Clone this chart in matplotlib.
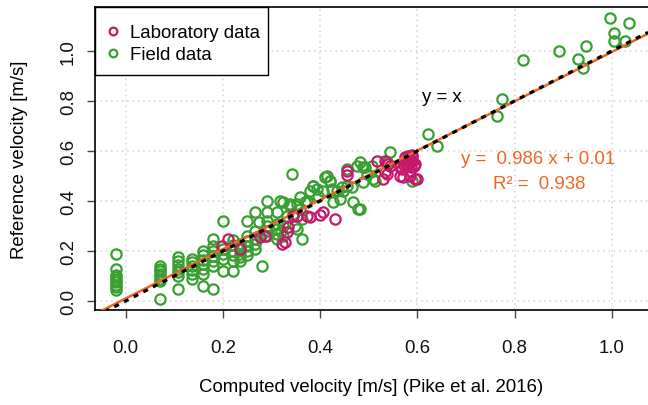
import matplotlib
matplotlib.use("Agg")
import matplotlib.pyplot as plt
from matplotlib.patches import Rectangle
import numpy as np

plt.rcParams['font.family'] = ['Liberation Sans', 'DejaVu Sans']

# Field data (computed, reference)
field_x = [
    -0.02, -0.02, -0.02, -0.02, -0.02, -0.02, -0.02, -0.02, -0.02,
    0.07, 0.07, 0.07, 0.07, 0.07, 0.07, 0.07, 0.07,
    0.108, 0.108, 0.108, 0.108, 0.108, 0.108, 0.108,
    0.137, 0.137, 0.137, 0.137, 0.137, 0.137,
    0.16, 0.16, 0.16, 0.16, 0.16, 0.16, 0.16,
    0.18, 0.18, 0.18, 0.18, 0.18, 0.18, 0.18,
    0.20, 0.20, 0.20, 0.20, 0.20,
    0.22, 0.22, 0.22, 0.22, 0.22, 0.22,
    0.235, 0.235, 0.235, 0.235, 0.235,
    0.25, 0.25, 0.25, 0.25, 0.25, 0.25,
    0.266, 0.266, 0.266, 0.266, 0.266,
    0.281, 0.275, 0.28,
    0.291, 0.291, 0.291, 0.291, 0.291, 0.291,
    0.312, 0.312, 0.312, 0.312, 0.312,
    0.318, 0.324, 0.32, 0.324, 0.324,
    0.338, 0.338, 0.342, 0.332, 0.349, 0.345,
    0.359, 0.359, 0.353, 0.353, 0.363, 0.362,
    0.369, 0.373, 0.379,
    0.386, 0.394, 0.396, 0.406, 0.414, 0.421, 0.425, 0.435, 0.445, 0.455, 0.466,
    0.468, 0.482, 0.441, 0.427, 0.479,
    0.41, 0.42, 0.386, 0.448,
    0.455, 0.476, 0.492, 0.497, 0.488, 0.509, 0.482, 0.506, 0.489,
    0.513, 0.537, 0.544, 0.582, 0.59,
    0.623, 0.64,
    0.764, 0.774,
    0.818, 0.891, 0.931, 0.941, 0.947,
    0.996, 1.005, 1.005, 1.027, 1.035,
]
field_y = [
    0.19, 0.13, 0.105, 0.095, 0.085, 0.075, 0.065, 0.055, 0.045,
    0.14, 0.13, 0.12, 0.11, 0.10, 0.09, 0.08, 0.01,
    0.175, 0.16, 0.145, 0.13, 0.115, 0.10, 0.05,
    0.17, 0.155, 0.14, 0.125, 0.11, 0.09,
    0.20, 0.185, 0.165, 0.15, 0.13, 0.11, 0.06,
    0.25, 0.22, 0.20, 0.18, 0.16, 0.14, 0.05,
    0.32, 0.21, 0.19, 0.17, 0.12,
    0.245, 0.225, 0.20, 0.185, 0.16, 0.12,
    0.23, 0.215, 0.19, 0.175, 0.16,
    0.32, 0.26, 0.24, 0.22, 0.20, 0.185,
    0.355, 0.28, 0.25, 0.23, 0.21,
    0.14, 0.315, 0.27,
    0.40, 0.355, 0.32, 0.30, 0.28, 0.26,
    0.355, 0.31, 0.29, 0.27, 0.25,
    0.40, 0.30, 0.28, 0.395, 0.26,
    0.39, 0.38, 0.508, 0.34, 0.30, 0.35,
    0.415, 0.37, 0.39, 0.29, 0.25, 0.33,
    0.395, 0.40, 0.44,
    0.46, 0.45, 0.42, 0.44, 0.50, 0.48, 0.45, 0.44, 0.455, 0.46, 0.455,
    0.395, 0.37, 0.41, 0.395, 0.368,
    0.495, 0.48, 0.461, 0.441,
    0.53, 0.54, 0.535, 0.51, 0.475, 0.49, 0.555, 0.541, 0.535,
    0.481, 0.555, 0.595, 0.581, 0.48,
    0.668, 0.621,
    0.74, 0.81,
    0.964, 1.00, 0.968, 0.932, 1.02,
    1.132, 1.072, 1.04, 1.04, 1.112,
]

# Laboratory data (computed, reference)
lab_x = [
    0.198, 0.211, 0.235, 0.277, 0.287, 0.321, 0.328, 0.332, 0.335,
    0.345, 0.352, 0.373, 0.38, 0.40, 0.407, 0.431,
    0.455, 0.455, 0.517, 0.534, 0.54, 0.544, 0.534, 0.53, 0.537,
    0.565, 0.565, 0.568, 0.571, 0.585, 0.595, 0.599, 0.585,
    0.575, 0.58, 0.585, 0.59, 0.578, 0.585, 0.59, 0.595,
    0.572, 0.58, 0.588, 0.593, 0.583, 0.576, 0.59,
]
lab_y = [
    0.221, 0.25, 0.21, 0.255, 0.26, 0.228, 0.235, 0.275, 0.295,
    0.34, 0.341, 0.34, 0.335, 0.345, 0.355, 0.33,
    0.52, 0.506, 0.56, 0.561, 0.548, 0.54, 0.515, 0.488, 0.508,
    0.535, 0.50, 0.528, 0.495, 0.521, 0.488, 0.488, 0.50,
    0.575, 0.58, 0.57, 0.575, 0.56, 0.555, 0.56, 0.55,
    0.545, 0.54, 0.535, 0.54, 0.565, 0.55, 0.585,
]

fit_slope = 0.986
fit_intercept = 0.01
r2 = 0.938

x_ticks = [0.0, 0.2, 0.4, 0.6, 0.8, 1.0]
y_ticks = [0.0, 0.2, 0.4, 0.6, 0.8, 1.0]

green = "#37A030"
magenta = "#C8186C"
orange = "#F26522"
FS = 13.4

fig = plt.figure(figsize=(6.48, 4.06), dpi=100)
ax_w_px, ax_h_px = 648 - 95, 311 - 8
ax = fig.add_axes([95/648, 1 - 311/406, ax_w_px/648, ax_h_px/406])

xlim = (-0.063, 1.0746)
ylim = (-0.036, 1.176)
ax.set_xlim(*xlim)
ax.set_ylim(*ylim)

ax.set_xticks(x_ticks)
ax.set_yticks(y_ticks)
ax.set_xticklabels([f"{v:.1f}" for v in x_ticks])
ax.set_yticklabels([f"{v:.1f}" for v in y_ticks], rotation=90, va='center')
ax.grid(True, color="#D3D3D3", linestyle=(0, (1, 2.5)), linewidth=1.1)
ax.set_axisbelow(True)

ax.tick_params(axis='both', direction='out', length=6, width=1, color="#444444",
               labelsize=FS, labelcolor="#111111")
ax.tick_params(axis='x', pad=15)
ax.tick_params(axis='y', pad=7)

for s in ['left', 'bottom', 'top']:
    ax.spines[s].set_linewidth(1.2)
    ax.spines[s].set_color('black')
ax.spines['right'].set_visible(False)

ax.plot(field_x, field_y, linestyle='none', marker='o', markersize=7.4,
        markerfacecolor='none', markeredgecolor=green, markeredgewidth=1.6,
        label='Field data', zorder=3)
ax.plot(lab_x, lab_y, linestyle='none', marker='o', markersize=7.4,
        markerfacecolor='none', markeredgecolor=magenta, markeredgewidth=1.6,
        label='Laboratory data', zorder=3)

xx = np.array(xlim)
ax.plot(xx, fit_slope * xx + fit_intercept, color=orange, linewidth=1.8, zorder=4)
ax.plot(xx, xx, color='black', linewidth=2.3, linestyle=(0, (1.6, 1.8)), zorder=5)

ax.text(0.651, 0.816, "y = x", fontsize=FS, ha='center', va='center', color='black')
ax.text(0.849, 0.568, f"y =  {fit_slope} x + {fit_intercept}", fontsize=FS,
        ha='center', va='center', color=orange)
ax.text(0.85, 0.468, f"R² =  {r2}", fontsize=FS, ha='center', va='center', color=orange)

# legend box (R style: more vertical padding than horizontal)
box_w = (268 - 95) / ax_w_px
box_h = (76 - 8) / ax_h_px
ax.add_patch(Rectangle((0, 1 - box_h), box_w, box_h, transform=ax.transAxes,
                       facecolor='white', edgecolor='black', linewidth=1.0,
                       zorder=6, clip_on=False))

handles, labels = ax.get_legend_handles_labels()
leg = ax.legend([handles[1], handles[0]], [labels[1], labels[0]],
                loc='upper left', bbox_to_anchor=(0, 1 - 8/ax_h_px), borderaxespad=0,
                frameon=False, fontsize=FS,
                handlelength=0.9, handletextpad=0.5, borderpad=0.5,
                labelspacing=0.25, markerscale=0.75)
leg.set_zorder(7)

ax.set_xlabel("Computed velocity [m/s] (Pike et al. 2016)", fontsize=FS, labelpad=16)
ax.set_ylabel("Reference velocity [m/s]", fontsize=FS, labelpad=23)

fig.savefig("out.png", dpi=100)
